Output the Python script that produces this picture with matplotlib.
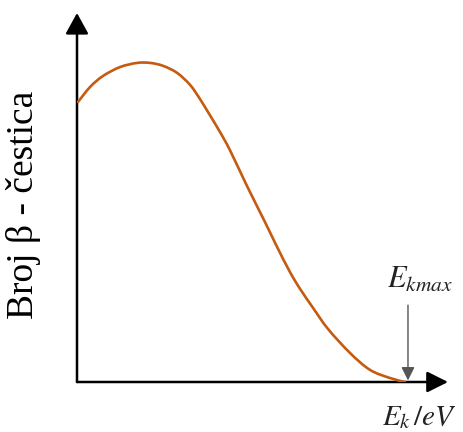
import matplotlib
matplotlib.use("Agg")
import matplotlib.pyplot as plt
from matplotlib.path import Path
from matplotlib.patches import PathPatch

plt.rcParams['mathtext.fontset'] = 'stix'

# Beta spectrum (arbitrary units): kinetic energy (E_kmax = 1) vs. number of particles
energy = [0.003, 0.040, 0.079, 0.131, 0.183, 0.223, 0.262, 0.305, 0.345,
          0.375, 0.405, 0.436, 0.466, 0.518, 0.573, 0.610, 0.649, 0.680,
          0.720, 0.765, 0.832, 0.893, 0.954, 1.000]
counts = [0.875, 0.922, 0.956, 0.984, 0.997, 0.997, 0.988, 0.966, 0.928,
          0.884, 0.834, 0.781, 0.725, 0.613, 0.500, 0.422, 0.344, 0.291,
          0.231, 0.166, 0.091, 0.038, 0.0125, 0.000]

E_kmax = 1.0
x_max = 1.131
y_max = 1.153

ylabel = "Broj β - čestica"
xlabel = r"$E_k\,/eV$"
kmax_label = r"$E_{kmax}$"


def smooth_path(xs, ys, t=1/6):
    """Smoothed line through the points (Catmull-Rom as cubic Bezier segments)."""
    verts = [(xs[0], ys[0])]
    codes = [Path.MOVETO]
    n = len(xs)
    for i in range(n - 1):
        x0, y0 = xs[max(i - 1, 0)], ys[max(i - 1, 0)]
        x1, y1 = xs[i], ys[i]
        x2, y2 = xs[i + 1], ys[i + 1]
        x3, y3 = xs[min(i + 2, n - 1)], ys[min(i + 2, n - 1)]
        c1 = (x1 + (x2 - x0) * t, y1 + (y2 - y0) * t)
        c2 = (x2 - (x3 - x1) * t, y2 - (y3 - y1) * t)
        verts += [c1, c2, (x2, y2)]
        codes += [Path.CURVE4] * 3
    return Path(verts, codes)


fig = plt.figure(figsize=(4.64, 4.32), dpi=100)
ax = fig.add_axes([77/464, 50/432, 371/464, 369/432])
ax.set_xlim(0, x_max)
ax.set_ylim(0, y_max)
ax.axis('off')

# axes with arrows
ax.annotate('', xy=(x_max, 0), xytext=(0, 0),
            arrowprops=dict(arrowstyle='-|>,head_length=0.4,head_width=0.2',
                            mutation_scale=32, lw=1.8, color='black',
                            shrinkA=0, shrinkB=0), annotation_clip=False)
ax.annotate('', xy=(0, y_max), xytext=(0, 0),
            arrowprops=dict(arrowstyle='-|>,head_length=0.4,head_width=0.22',
                            mutation_scale=32, lw=1.8, color='black',
                            shrinkA=0, shrinkB=0), annotation_clip=False)

ax.add_patch(PathPatch(smooth_path(energy, counts), facecolor='none',
                       edgecolor='#C55A11', lw=1.9, capstyle='round',
                       joinstyle='round', zorder=3))

# E_kmax marker arrow
ax.annotate('', xy=(E_kmax + 0.009, 0.005), xytext=(E_kmax + 0.009, 0.240),
            arrowprops=dict(arrowstyle='-|>,head_length=0.5,head_width=0.25',
                            mutation_scale=16, lw=1.0, color='#555555',
                            shrinkA=0, shrinkB=0), zorder=4)
ax.text(E_kmax + 0.045, 0.320, kmax_label, ha='center', va='center',
        fontsize=22, color='#222222')

fig.text(419/464, 1 - 417/432, xlabel, ha='center', va='center',
         fontsize=21, color='#222222')
fig.text(24/464, 1 - 205/432, ylabel, ha='center', va='center', rotation=90,
         fontsize=27, family=['Liberation Serif', 'DejaVu Serif'], color='black')

fig.savefig('out.png', dpi=100, facecolor='white')
